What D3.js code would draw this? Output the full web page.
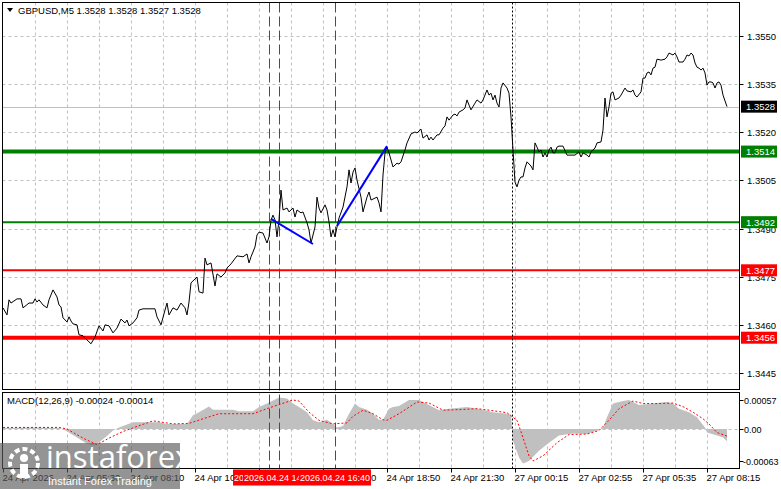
<!DOCTYPE html>
<html><head><meta charset="utf-8">
<script src="https://cdn.jsdelivr.net/npm/d3@7"></script>
<style>
body{margin:0;background:#fff}
svg{display:block}
text{font-family:"Liberation Sans",Arial,sans-serif;font-size:9.5px}
</style>
</head><body>
<svg id="c" width="781" height="489"></svg>
<script>
// ---------------- DATA ----------------
const titleText = "GBPUSD,M5  1.3528 1.3528 1.3527 1.3528";
const macdTitle = "MACD(12,26,9) -0.00024 -0.00014";

// bar index (M5 bars from 24 Apr 02:50) and close prices
const bars = [0,2,3,4,7,9,10,13,15,16,17,18,20,22,23,25,27,28,29,30,32,33,34,35,37,38,40,41,42,44,46,48,50,51,53,55,57,59,61,62,63,65,67,68,70,72,76,77,79,81,82,83,85,87,89,91,92,93,94,97,98,100,101,102,104,106,107,109,111,112,114,117,120,122,123,124,126,127,128,130,132,133,134,135,136,137,138,139,140,142,143,145,146,147,149,150,152,153,154,156,157,158,159,161,162,163,164,165,166,167,168,170,172,173,174,175,176,177,179,180,182,183,184,186,187,188,189,190,191,192,193,195,197,198,199,201,202,204,206,207,209,210,212,213,214,215,217,218,220,221,222,223,225,226,227,228,230,231,232,233,234,236,237,239,240,242,243,244,245,246,247,248,249,250,252,253,254,255,256,257,258,259,260,261,262,264,265,266,267,268,269,270,271,272,273,274,275,276,277,278,280,282,286,288,289,290,292,293,294,296,297,299,300,301,302,303,304,305,306,308,309,311,312,314,315,316,317,319,320,321,322,323,324,325,326,327,329,331,332,333,335,336,337,338,340,341,342,343,344,345,346,347,348,349,350,351,352,353,354,355,356,357,358,359,360,362];
const closes = [1.34653,1.34631,1.34678,1.34668,1.34681,1.34681,1.34653,1.34668,1.34668,1.34681,1.34671,1.34678,1.34662,1.34653,1.34678,1.34709,1.34687,1.34662,1.34656,1.34622,1.34609,1.34625,1.34612,1.34603,1.34600,1.34569,1.34566,1.34559,1.34553,1.34541,1.34562,1.34597,1.34581,1.34600,1.34597,1.34575,1.34590,1.34618,1.34606,1.34615,1.34597,1.34606,1.34622,1.34646,1.34650,1.34650,1.34650,1.34625,1.34600,1.34646,1.34668,1.34631,1.34653,1.34646,1.34668,1.34653,1.34631,1.34671,1.34731,1.34749,1.34703,1.34699,1.34808,1.34787,1.34793,1.34721,1.34759,1.34749,1.34762,1.34777,1.34790,1.34815,1.34812,1.34821,1.34793,1.34812,1.34843,1.34880,1.34889,1.34886,1.34855,1.34874,1.34927,1.34942,1.34927,1.34874,1.34927,1.35020,1.34958,1.34964,1.34952,1.34964,1.34936,1.34958,1.34949,1.34952,1.34918,1.34896,1.34855,1.34905,1.34998,1.34964,1.34949,1.34974,1.34958,1.34921,1.34874,1.34896,1.34874,1.34905,1.34933,1.34967,1.35030,1.35083,1.35042,1.35076,1.35089,1.35051,1.34998,1.34952,1.34998,1.35014,1.34989,1.34995,1.34998,1.34980,1.34952,1.35067,1.35136,1.35154,1.35136,1.35092,1.35104,1.35101,1.35108,1.35145,1.35167,1.35195,1.35201,1.35198,1.35210,1.35182,1.35192,1.35176,1.35185,1.35176,1.35192,1.35192,1.35213,1.35220,1.35248,1.35238,1.35254,1.35257,1.35251,1.35263,1.35270,1.35276,1.35301,1.35285,1.35270,1.35291,1.35301,1.35291,1.35301,1.35332,1.35316,1.35322,1.35301,1.35316,1.35291,1.35279,1.35338,1.35354,1.35338,1.35322,1.35248,1.35145,1.35045,1.35030,1.35051,1.35061,1.35061,1.35089,1.35108,1.35095,1.35083,1.35167,1.35154,1.35139,1.35145,1.35123,1.35136,1.35123,1.35145,1.35154,1.35136,1.35136,1.35154,1.35157,1.35157,1.35129,1.35129,1.35139,1.35123,1.35136,1.35129,1.35123,1.35139,1.35151,1.35167,1.35170,1.35207,1.35307,1.35248,1.35279,1.35322,1.35326,1.35301,1.35307,1.35316,1.35338,1.35329,1.35326,1.35332,1.35316,1.35310,1.35326,1.35369,1.35369,1.35385,1.35388,1.35379,1.35400,1.35403,1.35428,1.35425,1.35428,1.35435,1.35447,1.35441,1.35447,1.35435,1.35419,1.35419,1.35428,1.35441,1.35438,1.35447,1.35441,1.35416,1.35403,1.35400,1.35394,1.35400,1.35385,1.35347,1.35357,1.35357,1.35354,1.35338,1.35354,1.35357,1.35347,1.35316,1.35280];

const priceTicks = [1.3550,1.3535,1.3520,1.3505,1.3490,1.3475,1.3460,1.3445];
const timeTickBars = [0,32,64,96,128,160,192,224,256,288,320,352];
const timeTickLabels = ["24 Apr 2026","24 Apr 05:30","24 Apr 08:10","24 Apr 10:50","24 Apr 13:30","24 Apr 16:10","24 Apr 18:50","24 Apr 21:30","27 Apr 00:15","27 Apr 02:55","27 Apr 05:35","27 Apr 08:15"];
const bidPrice = 1.3528;
const bidLabel = "1.3528";
const supportResist = [1.3514, 1.3492, 1.3477, 1.3456];
const supportResistLabels = ["1.3514","1.3492","1.3477","1.3456"];
const vLineBars = [133, 138, 166];
const vLineLabels = ["2026.04.24 13:55","2026.04.24 14:20","2026.04.24 16:40"];
const daySeparatorBar = 254.5;
const trendStartBars = [134, 167];
const trendStartPrices = [1.34930, 1.34908];
const trendEndBars = [155, 192];
const trendEndPrices = [1.34852, 1.35157];

const macdTicks = [0.00057, 0, -0.00063];
const macdTickLabels = ["0.00057","0.00","-0.00063"];
const histBars = [0,15,28,30,37,42,45,48,52,55,58,65,78,82,92,95,98,103,105,115,118,125,128,132,135,138,142,145,148,152,155,158,162,165,167,170,173,176,178,182,185,188,190,193,195,198,203,208,213,218,223,232,240,245,252,254,255,258,260,263,268,273,278,285,292,297,300,302,305,310,313,318,325,332,335,338,343,347,351,352,357,360,362];
const histVals = [0.00002,0.00003,0.00002,0,-0.00017,-0.00029,-0.00032,-0.00026,-0.00014,-0.00003,0.00003,0.00013,0.00013,0.0001,0.0001,0.00027,0.00033,0.00044,0.00038,0.00038,0.00035,0.00035,0.00043,0.0005,0.00056,0.00062,0.0006,0.0005,0.00043,0.00033,0.00017,0.00013,0.00018,0.0001,0.00003,0.00006,0.0003,0.0005,0.00043,0.00038,0.0003,0.00018,0.00018,0.0004,0.00043,0.00045,0.00057,0.00057,0.00047,0.00037,0.0004,0.00043,0.00038,0.00033,0.0003,0.00028,-0.00023,-0.00056,-0.00068,-0.00063,-0.00043,-0.00027,-0.00013,-0.00009,-0.0001,-0.00003,0.00003,0.00023,0.0005,0.00055,0.00057,0.00047,0.0005,0.00053,0.0005,0.0004,0.00033,0.00023,0.00003,-0.00007,-0.00013,-0.00017,-0.00024];
const signalBars = [0,28,32,40,47,53,60,67,75,85,93,100,108,115,125,132,138,145,148,153,158,165,172,175,180,185,190,192,198,207,213,220,228,237,243,252,257,260,263,265,270,277,283,292,298,303,308,315,320,327,335,340,345,350,353,357,362];
const signalVals = [0.00003,0.00003,0,-0.00018,-0.00031,-0.00018,-0.00005,0.00005,0.00016,0.0001,0.00011,0.0002,0.0003,0.0003,0.0003,0.0004,0.00048,0.00057,0.00055,0.00033,0.00017,0.0001,0.00012,0.00025,0.00037,0.0003,0.00018,0.00017,0.0003,0.00053,0.00051,0.00037,0.00038,0.0004,0.00037,0.00032,0.00017,-0.00017,-0.00053,-0.00063,-0.00053,-0.00027,-0.00011,-0.0001,-0.00003,0.00017,0.0004,0.00055,0.0005,0.0005,0.00051,0.00044,0.00033,0.0002,0.0001,-0.00007,-0.00014];

// ---------------- LAYOUT ----------------
const L = 2.5, R = 739.5, mainTop = 2.5, mainBot = 389.5, macdTop = 392.5, macdBot = 468.5;
const svg = d3.select("#c");
const x = d3.scaleLinear().domain([0, 368]).range([3, 739]);
const y = d3.scaleLinear().domain([1.34397, 1.35603]).range([390, 3]);
const ym = d3.scaleLinear().domain([-0.00063, 0.00057]).range([461, 400]);
const GRID = "#c0c0c0";

svg.append("rect").attr("width",781).attr("height",489).attr("fill","#fff");

const defs = svg.append("defs");
defs.append("clipPath").attr("id","cm").append("rect").attr("x",L).attr("y",mainTop).attr("width",R-L).attr("height",mainBot-mainTop);
defs.append("clipPath").attr("id","cd").append("rect").attr("x",L).attr("y",macdTop).attr("width",R-L).attr("height",macdBot-macdTop);

// grid verticals
const gridBars = d3.range(16, 368, 16);
[[mainTop,mainBot],[macdTop,macdBot]].forEach(([t,b])=>{
  svg.append("g").selectAll("line").data(gridBars).join("line")
    .attr("x1",d=>Math.round(x(d))+0.5).attr("x2",d=>Math.round(x(d))+0.5)
    .attr("y1",t).attr("y2",b).attr("stroke",GRID).attr("stroke-dasharray","3,3");
});
// grid horizontals (main)
svg.append("g").selectAll("line").data(priceTicks).join("line")
  .attr("x1",L).attr("x2",R).attr("y1",d=>Math.round(y(d))+0.5).attr("y2",d=>Math.round(y(d))+0.5)
  .attr("stroke",GRID).attr("stroke-dasharray","3,3");
// macd zero
svg.append("line").attr("x1",L).attr("x2",R).attr("y1",Math.round(ym(0))+0.5).attr("y2",Math.round(ym(0))+0.5)
  .attr("stroke",GRID).attr("stroke-dasharray","3,3");

// bid line
svg.append("line").attr("x1",L).attr("x2",R).attr("y1",Math.round(y(bidPrice))+0.5).attr("y2",Math.round(y(bidPrice))+0.5).attr("stroke","#c0c0c0");

// level lines
const lvlColors = ["#008000","#008000","#ff0000","#ff0000"];
const lvlWidths = [4,2,2,4];
svg.append("g").selectAll("line").data(supportResist).join("line")
  .attr("x1",L).attr("x2",R).attr("y1",d=>y(d)).attr("y2",d=>y(d))
  .attr("stroke",(d,i)=>lvlColors[i]).attr("stroke-width",(d,i)=>lvlWidths[i]);

// MACD histogram
const histData = histBars.map((b,i)=>({b, v:histVals[i]}));
svg.append("path").datum(histData).attr("clip-path","url(#cd)")
  .attr("d", d3.area().x(d=>x(d.b)).y0(ym(0)).y1(d=>ym(d.v)))
  .attr("fill","#c0c0c0");
const sigData = signalBars.map((b,i)=>({b, v:signalVals[i]}));
svg.append("path").datum(sigData).attr("clip-path","url(#cd)")
  .attr("d", d3.line().x(d=>x(d.b)).y(d=>ym(d.v)))
  .attr("fill","none").attr("stroke","#ff0000").attr("stroke-dasharray","2,2");

// vertical lines
svg.append("line").attr("x1",Math.round(x(daySeparatorBar))+0.5).attr("x2",Math.round(x(daySeparatorBar))+0.5)
  .attr("y1",mainTop).attr("y2",macdBot).attr("stroke","#000").attr("stroke-dasharray","2,2");
svg.append("g").selectAll("line").data(vLineBars).join("line")
  .attr("x1",d=>Math.round(x(d))+0.5).attr("x2",d=>Math.round(x(d))+0.5)
  .attr("y1",mainTop).attr("y2",macdBot).attr("stroke","#ff0000").attr("stroke-dasharray","10,4");

// price line
const priceData = bars.map((b,i)=>({b, v:closes[i]}));
svg.append("path").datum(priceData).attr("clip-path","url(#cm)")
  .attr("d", d3.line().x(d=>x(d.b)).y(d=>y(d.v)))
  .attr("fill","none").attr("stroke","#000").attr("stroke-width",1);

// trend lines
svg.append("g").selectAll("line").data(trendStartBars).join("line")
  .attr("x1",(d,i)=>x(d)).attr("y1",(d,i)=>y(trendStartPrices[i]))
  .attr("x2",(d,i)=>x(trendEndBars[i])).attr("y2",(d,i)=>y(trendEndPrices[i]))
  .attr("stroke","#0000ff").attr("stroke-width",2);

// frames
[[mainTop,mainBot],[macdTop,macdBot]].forEach(([t,b])=>{
  svg.append("rect").attr("x",L).attr("y",t).attr("width",R-L).attr("height",b-t)
    .attr("fill","none").attr("stroke","#000");
});

// right axis ticks + labels (main)
const ax = svg.append("g");
priceTicks.forEach(p=>{
  const yy = Math.round(y(p))+0.5;
  ax.append("line").attr("x1",R).attr("x2",R+4).attr("y1",yy).attr("y2",yy).attr("stroke","#000");
  ax.append("text").attr("x",747).attr("y",yy+3.5).text(p.toFixed(4));
});
macdTicks.forEach((p,i)=>{
  const yy = Math.round(ym(p))+0.5;
  ax.append("line").attr("x1",R).attr("x2",R+4).attr("y1",yy).attr("y2",yy).attr("stroke","#000");
  ax.append("text").attr("x",p<0?743:744).attr("y",yy+3.5).style("font-size","9px").text(macdTickLabels[i]);
});

// price label boxes
function priceBox(p, label, bg){
  const yy = y(p);
  svg.append("rect").attr("x",741).attr("y",yy-6).attr("width",36).attr("height",12).attr("fill",bg);
  svg.append("text").attr("x",746).attr("y",yy+3.5).attr("fill","#fff").text(label);
}
priceBox(bidPrice, bidLabel, "#000");
supportResist.forEach((p,i)=>priceBox(p, supportResistLabels[i], lvlColors[i]));

// time axis
timeTickBars.forEach((b,i)=>{
  const xx = Math.round(x(b))+0.5;
  ax.append("line").attr("x1",xx).attr("x2",xx).attr("y1",macdBot).attr("y2",macdBot+4).attr("stroke","#000");
  ax.append("text").attr("x",xx-1).attr("y",481).text(timeTickLabels[i]);
});

// vertical line labels (later labels cover earlier ones)
const LW = 72;
vLineBars.forEach((b,i)=>{
  const xx = x(b);
  const left = xx - LW/2;
  const visRight = i < vLineBars.length-1 ? x(vLineBars[i+1]) - LW/2 : left + LW;
  defs.append("clipPath").attr("id","vl"+i).append("rect")
    .attr("x",left).attr("y",468).attr("width",visRight-left).attr("height",20);
  const g = svg.append("g").attr("clip-path","url(#vl"+i+")");
  g.append("rect").attr("x",left).attr("y",469.5).attr("width",LW).attr("height",16).attr("fill","#ff0000");
  g.append("text").attr("x",xx).attr("y",481).attr("text-anchor","middle").attr("fill","#fff")
    .style("font-size","9px").text(vLineLabels[i]);
});

// titles
svg.append("path").attr("d","M7,8 L13,8 L10,12 Z").attr("fill","#000");
svg.append("text").attr("x",18).attr("y",14).text(titleText);
svg.append("text").attr("x",7).attr("y",404).text(macdTitle);

// watermark
const wm = svg.append("g");
wm.append("rect").attr("x",0).attr("y",443).attr("width",180).attr("height",46).attr("fill","rgba(90,90,90,0.65)");
const ic = wm.append("g").attr("fill","#fff");
ic.append("circle").attr("cx",24).attr("cy",463).attr("r",14).attr("fill","none").attr("stroke","#fff").attr("stroke-width",4).attr("stroke-dasharray","5,3");
ic.append("circle").attr("cx",24).attr("cy",458).attr("r",4);
ic.append("rect").attr("x",20).attr("y",464).attr("width",8).attr("height",14);
wm.append("text").attr("x",46).attr("y",468).attr("fill","#fff").style("font-size","31px").style("font-family","'Open Sans',sans-serif").text("instaforex");
wm.append("text").attr("x",48).attr("y",485).attr("fill","#fff").style("font-size","11px").text("Instant Forex Trading");
</script>
</body></html>
